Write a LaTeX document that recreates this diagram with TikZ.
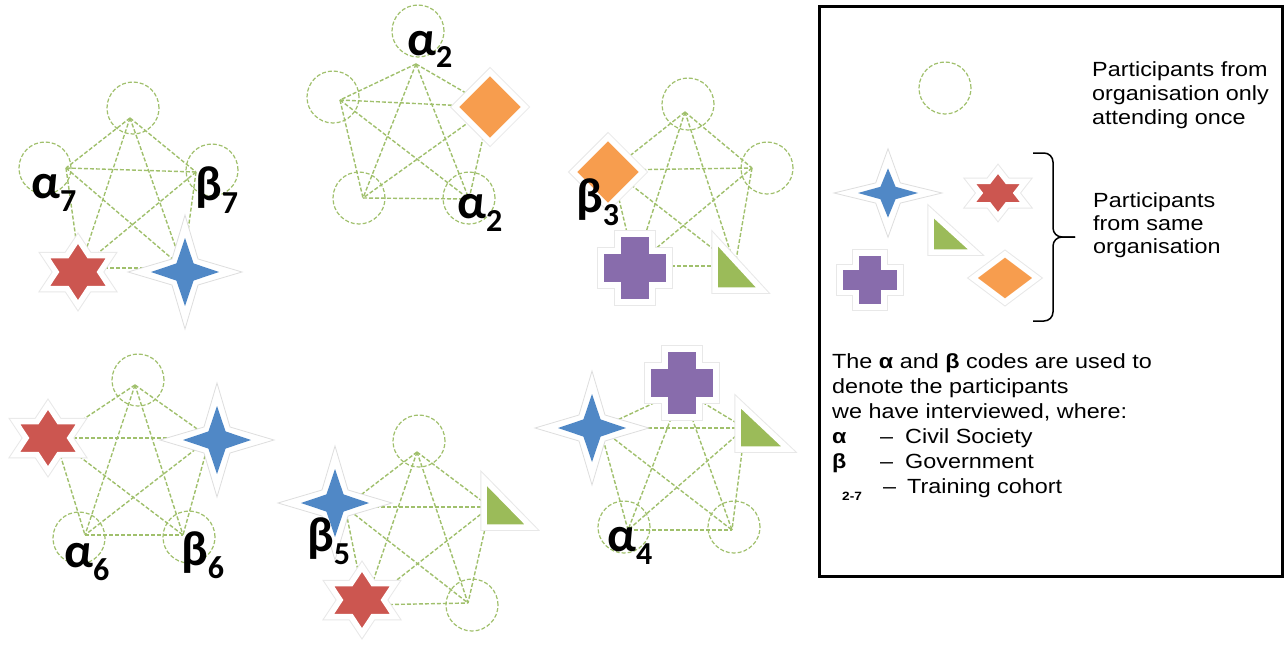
\documentclass[tikz,border=0pt]{standalone}
\usepackage{fontspec}
\setmainfont{Liberation Sans}
\newfontfamily\legfont[FakeStretch=1.14]{Liberation Sans}
\newfontfamily\codefont{Carlito}
\usetikzlibrary{shapes.geometric}

\definecolor{linkgreen}{RGB}{160,192,108}
\definecolor{starred}{RGB}{204,86,80}
\definecolor{starblue}{RGB}{80,136,198}
\definecolor{leafgreen}{RGB}{155,187,89}
\definecolor{plumpurple}{RGB}{136,108,172}
\definecolor{tileorange}{RGB}{247,157,78}

% interview code: Greek letter with cohort number
\newcommand\codelab[2]{{\codefont\bfseries\fontsize{49}{49}\selectfont #1\raisebox{-13pt}{\fontsize{32}{32}\selectfont #2}}}

% plus-shaped marker: centre x, centre y, half width, half arm
\newcommand\plusmark[4]{%
  \draw[framed, fill=plumpurple, shift={(#1,#2)}]
    (-#3,-#4) -- (-#4,-#4) -- (-#4,-#3) -- (#4,-#3) -- (#4,-#4) -- (#3,-#4)
    -- (#3,#4) -- (#4,#4) -- (#4,#3) -- (-#4,#3) -- (-#4,#4) -- (-#3,#4) -- cycle;}

\tikzset{
  link/.style={draw=linkgreen, line width=1.4pt, dash pattern=on 4pt off 2pt},
  oncecirc/.style={circle, draw=linkgreen, line width=1.2pt, dash pattern=on 4pt off 2pt,
    minimum size=52pt, inner sep=0pt},
  framed/.style={preaction={draw=black!9, line width=7.5pt}, draw=white, line width=5.5pt},
  hexstar/.style={star, star points=6, star point ratio=1.732, framed, fill=starred,
    inner sep=0pt, minimum size=66pt},
  fourstar/.style={star, star points=4, star point ratio=2.8, fill=starblue,
    inner sep=0pt, minimum size=68pt},
  fourhalo/.style={star, star points=4, star point ratio=3.1, fill=white, draw=black!13,
    line width=0.8pt, inner sep=0pt, minimum size=114pt},
  tile/.style={diamond, framed, fill=tileorange, inner sep=0pt, minimum size=72pt},
  codelabel/.style={anchor=base west, inner sep=0pt},
  legtext/.style={anchor=base west, inner sep=0pt, font=\legfont\fontsize{20.5}{24.5}\selectfont},
}

\begin{document}
\begin{tikzpicture}[x=1pt, y=-1pt]
\fill[white] (0,0) rectangle (1288,645);
\useasboundingbox (0,0) rectangle (1288,645);

% meeting points of the cohort networks
\coordinate (g1A) at (130,118); \coordinate (g1B) at (66,168);  \coordinate (g1C) at (196,172);
\coordinate (g1D) at (80,268);  \coordinate (g1E) at (183,268);
\coordinate (g2A) at (416,64);  \coordinate (g2B) at (340,100); \coordinate (g2C) at (490,107);
\coordinate (g2D) at (363,198); \coordinate (g2E) at (469,199);
\coordinate (g3A) at (685,112); \coordinate (g3B) at (612,170); \coordinate (g3C) at (752,168);
\coordinate (g3D) at (635,266); \coordinate (g3E) at (735,266);
\coordinate (g4A) at (135,385); \coordinate (g4B) at (55,438);  \coordinate (g4C) at (210,438);
\coordinate (g4D) at (85,535);  \coordinate (g4E) at (183,535);
\coordinate (g5A) at (417,452); \coordinate (g5B) at (345,507); \coordinate (g5C) at (490,507);
\coordinate (g5D) at (365,605); \coordinate (g5E) at (468,603);
\coordinate (g6A) at (682,390); \coordinate (g6B) at (600,428); \coordinate (g6C) at (745,428);
\coordinate (g6D) at (628,530); \coordinate (g6E) at (732,530);

% every participant linked to every other one
\foreach \g in {1,...,6}{
  \foreach \p/\q in {A/B,A/C,A/D,A/E,B/C,B/D,B/E,C/D,C/E,D/E}
    \draw[link] (g\g\p) -- (g\g\q);
}

% participants attending once
\node[oncecirc] (c1a) at (133,108) {};
\node[oncecirc] (c1b) at (45,168) {};
\node[oncecirc] (c1c) at (212,170) {};
\node[oncecirc] (c2a) at (418,31) {};
\node[oncecirc] (c2b) at (333,97) {};
\node[oncecirc] (c2d) at (359,198) {};
\node[oncecirc] (c2e) at (469,198) {};
\node[oncecirc] (c3a) at (688,104) {};
\node[oncecirc] (c3c) at (767,168) {};
\node[oncecirc] (c4a) at (138,380) {};
\node[oncecirc] (c4d) at (79,538) {};
\node[oncecirc] (c4e) at (189,537) {};
\node[oncecirc] (c5a) at (419,441) {};
\node[oncecirc] (c5e) at (472,605) {};
\node[oncecirc] (c6d) at (624,527) {};
\node[oncecirc] (c6e) at (734,527) {};

% red organisation
\begin{scope}[shift={(78,272)}, xscale=1.15]
  \node[hexstar, transform shape] (r1) at (0,0) {};
\end{scope}
\begin{scope}[shift={(48,438)}, xscale=1.15]
  \node[hexstar, transform shape] (r4) at (0,0) {};
\end{scope}
\begin{scope}[shift={(362,600)}, xscale=1.15]
  \node[hexstar, transform shape] (r5) at (0,0) {};
\end{scope}

% blue organisation
\node[fourhalo] (h1) at (185,272) {}; \node[fourstar] (b1) at (185,272) {};
\node[fourhalo] (h4) at (217,440) {}; \node[fourstar] (b4) at (217,440) {};
\node[fourhalo] (h5) at (335,503) {}; \node[fourstar] (b5) at (335,503) {};
\node[fourhalo] (h6) at (592,428) {}; \node[fourstar] (b6) at (592,428) {};

% orange organisation
\node[tile] (o2) at (490,107) {};
\node[tile] (o3) at (608,172) {};

% purple organisation
\plusmark{635}{268}{34}{17}
\plusmark{682}{383}{34}{17}

% green organisation
\draw[framed, fill=leafgreen] (715,239) -- (715,290) -- (762,290) -- cycle;
\draw[framed, fill=leafgreen] (484,479) -- (484,527) -- (531,527) -- cycle;
\draw[framed, fill=leafgreen] (738,402) -- (738,449) -- (788,449) -- cycle;

% interview codes
\node[codelabel] (l1a) at (31,198)  {\codelab{α}{7}};
\node[codelabel] (l1b) at (195,200) {\codelab{β}{7}};
\node[codelabel] (l2a) at (407,55)  {\codelab{α}{2}};
\node[codelabel] (l2b) at (457,218) {\codelab{α}{2}};
\node[codelabel] (l3b) at (576,212) {\codelab{β}{3}};
\node[codelabel] (l4a) at (64,567)  {\codelab{α}{6}};
\node[codelabel] (l4b) at (181,565) {\codelab{β}{6}};
\node[codelabel] (l5b) at (307,551) {\codelab{β}{5}};
\node[codelabel] (l6a) at (607,551) {\codelab{α}{4}};

% key
\node[draw, line width=2.5pt, minimum width=463pt, minimum height=570pt, inner sep=0pt]
  (key) at (1051,291.5) {};
\node[oncecirc] (keyonce) at (945,88) {};
\node[legtext] (t1) at (1092,76)  {Participants from};
\node[legtext] (t2) at (1092,100) {organisation only};
\node[legtext] (t3) at (1092,124) {attending once};

\begin{scope}[shift={(888,193)}, yscale=0.82]
  \node[fourhalo, transform shape, minimum size=108pt] (keyhalo) at (0,0) {};
  \node[fourstar, transform shape, minimum size=60pt] (keyblue) at (0,0) {};
\end{scope}
\begin{scope}[shift={(998,193)}, xscale=1.35]
  \node[hexstar, transform shape, minimum size=47pt] (keyred) at (0,0) {};
\end{scope}
\draw[framed, fill=leafgreen] (931,212) -- (931,252) -- (975,252) -- cycle;
\begin{scope}[shift={(870,280)}, yscale=0.9]
  \plusmark{0}{0}{30}{14}
\end{scope}
\begin{scope}[shift={(1005,278)}, yscale=0.75]
  \node[tile, transform shape, minimum size=66pt] (keyorange) at (0,0) {};
\end{scope}

% brace grouping the organisation markers
\draw[line width=1.5pt, rounded corners=9pt] (1033,153) -- (1053,153) -- (1053,237) -- (1075,237);
\draw[line width=1.5pt, rounded corners=9pt] (1075,237) -- (1053,237) -- (1053,321) -- (1033,321);
\node[legtext] (t4) at (1093,207) {Participants};
\node[legtext] (t5) at (1093,230) {from same};
\node[legtext] (t6) at (1093,253) {organisation};

\node[legtext] (t7) at (832,368) {The \textbf{α} and \textbf{β} codes are used to};
\node[legtext] (t8) at (832,393) {denote the participants};
\node[legtext] (t9) at (832,418) {we have interviewed, where:};
\node[legtext] (k1) at (832,443) {\textbf{α}};
\node[legtext] (k1d) at (880,443) {–};
\node[legtext] (k1t) at (905,443) {Civil Society};
\node[legtext] (k2) at (832,468) {\textbf{β}};
\node[legtext] (k2d) at (880,468) {–};
\node[legtext] (k2t) at (905,468) {Government};
\node[anchor=base west, inner sep=0pt, font=\legfont\bfseries\fontsize{12}{12}\selectfont]
  (k3) at (842,500) {2-7};
\node[legtext] (k3d) at (883,493) {–};
\node[legtext] (k3t) at (907,493) {Training cohort};
\end{tikzpicture}
\end{document}
